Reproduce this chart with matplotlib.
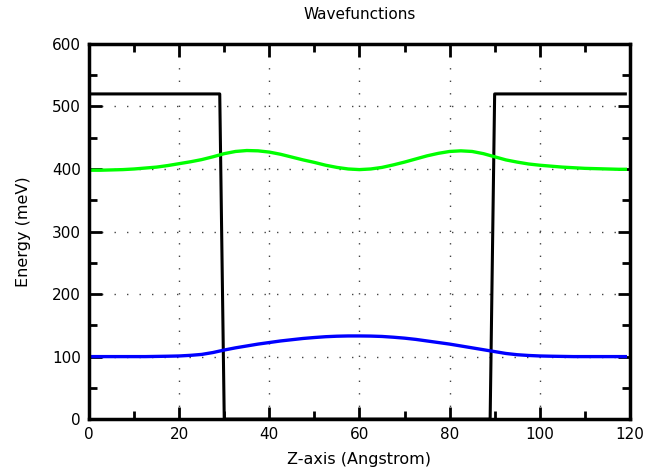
import matplotlib
matplotlib.use('Agg')
import matplotlib.pyplot as plt
from matplotlib.ticker import MultipleLocator

# potential profile (meV)
z_pot = [0, 29, 30, 89, 90, 119]
v_pot = [520, 520, 0, 0, 520, 520]

# wavefunctions (offset by energy level), read every 2.5 Angstrom
z_wf = [0, 2.5, 5, 7.5, 10, 12.5, 15, 17.5, 20, 22.5, 25, 27.5, 30, 32.5, 35, 37.5, 40,
        42.5, 45, 47.5, 50, 52.5, 55, 57.5, 60, 62.5, 65, 67.5, 70, 72.5, 75, 77.5, 80,
        82.5, 85, 87.5, 90, 92.5, 95, 97.5, 100, 102.5, 105, 107.5, 110, 112.5, 115, 117.5, 119]
psi1 = [100, 100, 100, 100, 100, 100, 100.3, 100.6, 101, 102, 103.5, 106.5, 110.5, 114, 117, 120, 122.5,
        125, 127, 129, 130.5, 131.8, 132.6, 133, 133, 132.8, 132.2, 131, 129.5, 127.5, 125, 122.5, 120,
        117, 114, 111, 108, 105, 103, 101.8, 101, 100.6, 100.3, 100, 100, 100, 100, 100, 100]
psi2 = [398, 398, 398.5, 399, 400, 401.5, 403, 405.5, 408.5, 411.5, 415, 419.5, 424.5, 428, 429.5, 429, 427,
        423.5, 419, 414.5, 410.5, 406, 402.5, 400, 399, 400, 402.5, 406.5, 411, 416, 421, 425, 428,
        429, 428, 424.5, 419.5, 414.5, 411, 408, 406, 404.5, 403, 402, 401, 400.5, 400, 399.5, 399.5]

fig = plt.figure(figsize=(6.5, 4.72), dpi=100)
ax = fig.add_axes([0.137, 0.112, 0.832, 0.795])

ax.plot(z_pot, v_pot, color='black', lw=2.2)
ax.plot(z_wf, psi1, color='#0000ff', lw=2.4)
ax.plot(z_wf, psi2, color='#00ff00', lw=2.4)

ax.set_xlim(0, 120)
ax.set_ylim(0, 600)
ax.xaxis.set_major_locator(MultipleLocator(20))
ax.xaxis.set_minor_locator(MultipleLocator(10))
ax.yaxis.set_major_locator(MultipleLocator(100))
ax.yaxis.set_minor_locator(MultipleLocator(50))

ax.grid(True, which='major', color='#444444', linestyle=(0, (1, 8)), lw=1.0)
ax.tick_params(which='both', direction='in', top=True, right=True, width=2, labelsize=11, pad=6)
ax.tick_params(which='major', length=9)
ax.tick_params(which='minor', length=6)
for s in ax.spines.values():
    s.set_linewidth(2.5)

ax.set_xlabel('Z-axis (Angstrom)', fontsize=11.5, labelpad=7)
ax.set_ylabel('Energy (meV)', fontsize=11.5, labelpad=15)
ax.set_title('Wavefunctions', fontsize=11, pad=18)

fig.savefig('out.png', dpi=100)
